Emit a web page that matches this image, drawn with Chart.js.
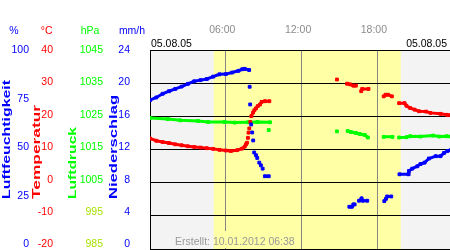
<!DOCTYPE html>
<html>
<head>
<meta charset="utf-8">
<script src="https://cdn.jsdelivr.net/npm/chart.js@4.4.0/dist/chart.umd.min.js"></script>
<style>
  html, body { margin: 0; padding: 0; background: #fff; }
  canvas { display: block; }
</style>
</head>
<body>
<canvas id="wetterChart" width="450" height="250"></canvas>
<script>
// tick values of the axes
const timeTicks = [6, 12, 18];
const humTicks = [0, 25, 50, 75, 100];
const tempTicks = [-20, -10, 0, 10, 20, 30, 40];
const presTicks = [985, 995, 1005, 1015, 1025, 1035, 1045];
const rainTicks = [0, 4, 8, 12, 16, 20, 24];
const daylight = [5.04, 19.85];

// Luftfeuchtigkeit (%), hours of day / values, null = gap
const humLineT = [0, 0.5, 1, 1.5, 2, 2.5, 3, 3.5, 4, 4.5, 5, 5.5, 6, 6.5, 7, 7.3, 7.5, 7.85, 8, 9.1, 9.4, 12,
  15.78, 15.98, 16.1, 16.2, 16.4, 16.55, 16.75, 16.85, 17.2, 18, 18.55, 18.68, 18.78, 19.1, 19.5,
  19.75, 20.45, 20.5, 20.76, 21.16, 21.42, 21.74, 22.08, 22.62, 23.0, 23.28, 23.55, 23.8];
const humLineV = [74.2, 75.6, 77.5, 78.8, 80, 81.2, 82.6, 83.9, 84.5, 85.1, 86.3, 87.5, 87.6, 88.4, 89.3, 90.1, 90.3, 89.7, null, 35.1, 35.1, null,
  19.4, 19.4, 20.6, 20.6, null, 22.5, 23.7, 22.5, 22.5, null, 22.3, 23.5, 24.7, 24.7, null,
  36.1, 36.1, 37.8, 39.0, 40.2, 41.4, 42.1, 44.2, 45.4, 45.4, 47.1, 48.1, 48.5];
const humDotT = [7.89, 7.93, 8.01, 8.09, 8.17, 8.25, 8.39, 8.49, 8.65, 8.78, 8.92];
const humDotV = [81.1, 72.0, 61.7, 57.6, 53.5, 47.3, 45.9, 44.5, 42.1, 40.7, 39.0];

// Temperatur (°C)
const tempLineT = [0, 0.5, 1, 1.5, 2, 2.5, 3, 3.5, 4, 4.5, 5, 5.5, 6, 6.4, 6.9, 7.3, 7.5, 7.6, 7.7,
  8.02, 8.16, 8.26, 8.39, 8.53, 8.71, 8.84, 9.1, 9.45, 12, 15.6, 15.85, 16.1, 16.3, 16.5, 16.72, 16.8, 17.3, 18,
  18.5, 18.65, 18.85, 19.15, 19.5, 19.72, 20.15, 20.3, 20.6, 20.95, 21.3, 21.85, 22.2, 23.0, 23.5, 23.8];
const tempLineV = [12.7, 12.0, 11.6, 11.3, 10.9, 10.6, 10.3, 10.1, 9.9, 9.7, 9.5, 9.2, 9.0, 8.85, 9.1, 9.6, 10.2, 10.9, null,
  19.6, 20.7, 21.4, 22.0, 22.7, 23.2, 24.0, 24.2, 24.2, null, 29.6, 29.4, 29.0, 29.0, null, 27.3, 28.0, 28.0, null,
  25.7, 26.2, 26.2, 25.7, null, 23.6, 23.6, 22.8, 22.1, 21.6, 21.1, 21.0, 20.6, 20.3, 20.0, 19.9];
const tempDotT = [7.68, 7.75, 7.8, 7.86, 7.94, 14.8];
const tempDotV = [11.4, 12.9, 14.5, 15.8, 17.8, 30.9];

// Luftdruck (hPa)
const presLineT = [0, 1.4, 2.4, 3.8, 4.6, 5.9, 6.7, 7.75, 8.5, 9.5, 12, 15.65, 15.9, 16.3, 16.6, 17.0, 17.25, 18,
  18.5, 19.2, 19.5, 19.72, 20.3, 20.6, 21.4, 22.4, 22.9, 23.5, 23.8];
const presLineV = [1024.0, 1023.7, 1023.3, 1023.1, 1022.8, 1022.8, 1022.6, 1022.7, 1022.8, 1022.7, null,
  1020.0, 1019.7, 1019.4, 1019.1, 1018.8, 1018.0, null, 1018.2, 1018.2, null,
  1018.0, 1018.1, 1018.4, 1018.3, 1018.6, 1018.3, 1018.4, 1018.3];
const presDotT = [9.4, 14.8];
const presDotV = [1020.3, 1019.9];

const axisTitles = ['Luftfeuchtigkeit', 'Temperatur', 'Luftdruck', 'Niederschlag'];
const unitLabels = ['%', '°C', 'hPa', 'mm/h'];
const dateLabel = '05.08.05';
const createdLabel = 'Erstellt: 10.01.2012 06:38';

const BLUE = '#0000ff';
const RED = '#ff0000';
const GREEN = '#00ff00';
const FONT = 'Liberation Sans, Arial, sans-serif';

function series(times, vals, color, axis, showLine) {
    return {
        data: times.map((t, i) => ({ x: t, y: vals[i] })),
        yAxisID: axis,
        showLine: showLine,
        spanGaps: false,
        borderColor: color,
        backgroundColor: color,
        borderWidth: 3,
        pointStyle: 'rect',
        pointRadius: 2,
        pointBorderWidth: 1,
        pointHoverRadius: 2
    };
}

function fixedTicks(list) {
    return function(scale) {
        scale.ticks = list.map(v => ({ value: v }));
    };
}

function leftAxis(ticks, min, max, width, pad, color, weight) {
    return {
        position: 'left',
        min: min,
        max: max,
        weight: weight,
        afterBuildTicks: fixedTicks(ticks),
        ticks: {
            color: color,
            padding: pad,
            font: { family: FONT, size: 10.5 },
            callback: v => String(v)
        },
        grid: { display: false, drawTicks: false },
        border: { display: false },
        afterFit: function(scale) {
            scale.width = width;
            scale.paddingTop = 0;
            scale.paddingBottom = 0;
        }
    };
}

function vText(ctx, text, x, yBottom, len, color) {
    ctx.save();
    ctx.font = 'bold 11px ' + FONT;
    ctx.translate(x, yBottom);
    ctx.rotate(-Math.PI / 2);
    ctx.scale(len / ctx.measureText(text).width, 1);
    ctx.fillStyle = color;
    ctx.textAlign = 'left';
    ctx.textBaseline = 'alphabetic';
    ctx.fillText(text, 0, 0);
    ctx.restore();
}

const decoration = {
    id: 'decoration',
    beforeDraw(chart) {
        const { ctx, chartArea: a } = chart;
        const x = chart.scales.x;
        ctx.save();
        ctx.fillStyle = '#f3f3f3';
        ctx.fillRect(a.left, a.top, a.right - a.left, a.bottom - a.top);
        const x0 = x.getPixelForValue(daylight[0]);
        const x1 = x.getPixelForValue(daylight[1]);
        ctx.fillStyle = '#ffffa6';
        ctx.fillRect(x0, a.top, x1 - x0, a.bottom - a.top);
        ctx.restore();
    },
    beforeDatasetsDraw(chart) {
        // the "Erstellt" box hides the 06:00 line
        const { ctx } = chart;
        const x6 = Math.round(chart.scales.x.getPixelForValue(timeTicks[0]));
        ctx.save();
        ctx.fillStyle = '#ffffa6';
        ctx.fillRect(x6 - 1, 231, 3, 17);
        ctx.restore();
    },
    afterDraw(chart) {
        const { ctx } = chart;
        ctx.save();
        vText(ctx, axisTitles[0], 9.5, 199, 119, BLUE);
        vText(ctx, axisTitles[1], 39.5, 199, 94, RED);
        vText(ctx, axisTitles[2], 76, 199, 72, GREEN);
        vText(ctx, axisTitles[3], 117.3, 199, 104, BLUE);

        ctx.font = '10.5px ' + FONT;
        ctx.textBaseline = 'alphabetic';
        ctx.textAlign = 'center';
        const unitX = [14, 46.7, 90, 132];
        const unitC = [BLUE, RED, GREEN, BLUE];
        unitLabels.forEach((u, i) => {
            ctx.fillStyle = unitC[i];
            ctx.fillText(u, unitX[i], 34.3);
        });

        ctx.fillStyle = '#000';
        ctx.textAlign = 'left';
        ctx.fillText(dateLabel, 151, 46.7);
        ctx.textAlign = 'right';
        ctx.fillText(dateLabel, 447, 46.7);

        ctx.fillStyle = '#999';
        ctx.textAlign = 'left';
        ctx.fillText(createdLabel, 175, 245);
        ctx.restore();
    }
};

new Chart(document.getElementById('wetterChart').getContext('2d'), {
    type: 'line',
    data: {
        datasets: [
            series(humLineT, humLineV, BLUE, 'h', true),
            series(humDotT, humDotV, BLUE, 'h', false),
            series(tempLineT, tempLineV, RED, 't', true),
            series(tempDotT, tempDotV, RED, 't', false),
            series(presLineT, presLineV, GREEN, 'p', true),
            series(presDotT, presDotV, GREEN, 'p', false)
        ]
    },
    plugins: [decoration],
    options: {
        responsive: false,
        devicePixelRatio: 1,
        animation: false,
        events: [],
        layout: { autoPadding: false, padding: { top: 0, right: 0, bottom: 1, left: 0 } },
        plugins: {
            legend: { display: false },
            tooltip: { enabled: false }
        },
        scales: {
            x: {
                type: 'linear',
                position: 'top',
                min: 0,
                max: 23.75,
                afterBuildTicks: fixedTicks(timeTicks),
                ticks: {
                    color: '#8c8c8c',
                    padding: 14,
                    labelOffset: -3.5,
                    maxRotation: 0,
                    autoSkip: false,
                    font: { family: FONT, size: 10.5 },
                    callback: v => String(v).padStart(2, '0') + ':00'
                },
                grid: { color: '#888', drawTicks: false },
                border: { color: '#000' },
                afterFit: function(scale) {
                    scale.height = 50;
                    scale.paddingLeft = 0;
                    scale.paddingRight = 0;
                }
            },
            g: {
                position: 'left',
                min: 0,
                max: 6,
                weight: 0,
                ticks: { display: false, stepSize: 1 },
                grid: { color: '#000', drawTicks: false },
                border: { display: false },
                afterFit: function(scale) {
                    scale.width = 0;
                    scale.paddingTop = 0;
                    scale.paddingBottom = 0;
                }
            },
            h: leftAxis(humTicks, -2.32, 100, 32, 3, BLUE, 4),
            t: leftAxis(tempTicks, -21.39, 40, 24, 3, RED, 3),
            p: Object.assign(leftAxis(presTicks, 983.61, 1045, 50, 3, GREEN, 2), {}),
            n: Object.assign(leftAxis(rainTicks, -0.556, 24, 44, 20, BLUE, 1), {
                border: { display: true, color: '#000' }
            })
        }
    }
});
// Luftdruck labels below 1000 hPa are drawn yellow-green
Chart.getChart('wetterChart').options.scales.p.ticks.color = ctx => (ctx.tick && ctx.tick.value < 1000 ? '#a8e000' : GREEN);
Chart.getChart('wetterChart').update();
</script>
</body>
</html>
